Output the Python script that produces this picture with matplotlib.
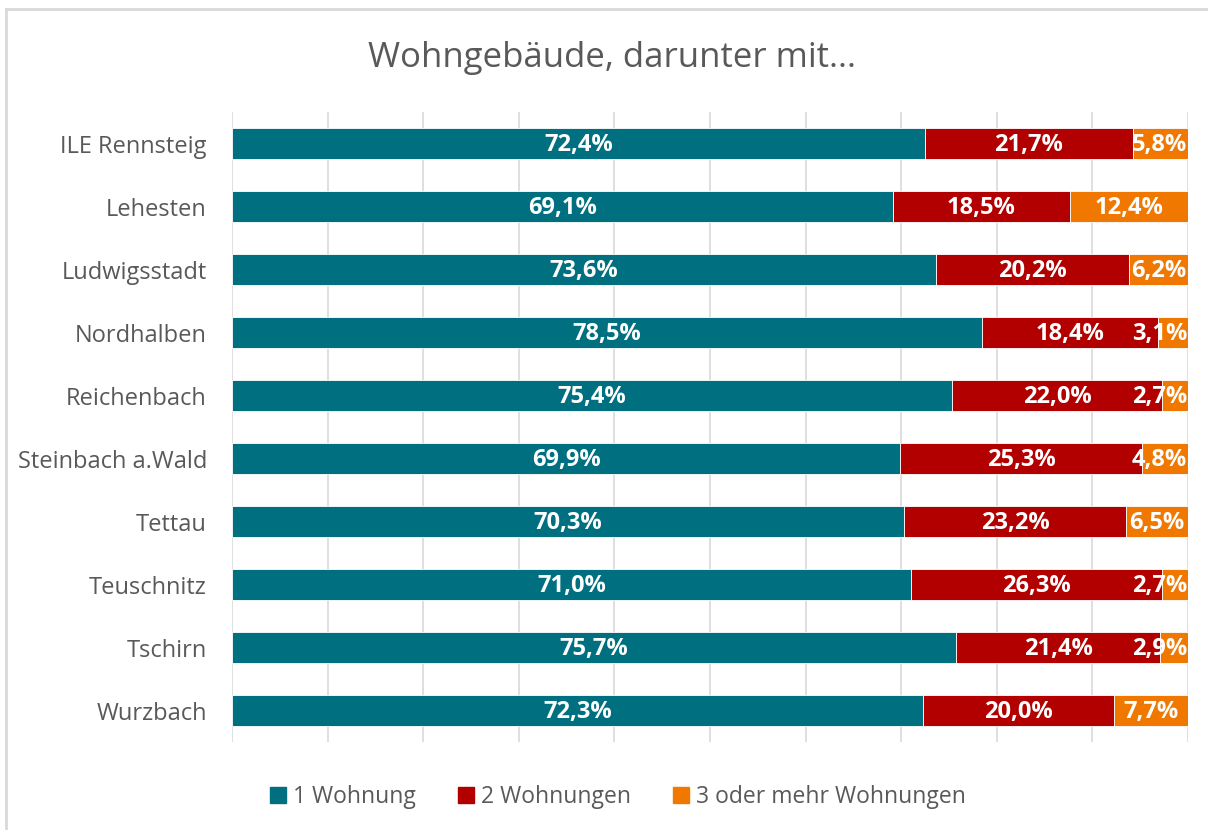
import numpy as np
import matplotlib.pyplot as plt
from matplotlib.lines import Line2D

plt.rcParams['font.family'] = ['Open Sans', 'DejaVu Sans']

regions = ["ILE Rennsteig", "Lehesten", "Ludwigsstadt", "Nordhalben", "Reichenbach",
           "Steinbach a.Wald", "Tettau", "Teuschnitz", "Tschirn", "Wurzbach"]
one_flat = [72.4, 69.1, 73.6, 78.5, 75.4, 69.9, 70.3, 71.0, 75.7, 72.3]
two_flats = [21.7, 18.5, 20.2, 18.4, 22.0, 25.3, 23.2, 26.3, 21.4, 20.0]
three_plus = [5.8, 12.4, 6.2, 3.1, 2.7, 4.8, 6.5, 2.7, 2.9, 7.7]
series_names = ["1 Wohnung", "2 Wohnungen", "3 oder mehr Wohnungen"]
colors = ["#007080", "#B20000", "#F07800"]

data = np.array([one_flat, two_flats, three_plus])
shares = data / data.sum(axis=0)

fig = plt.figure(figsize=(12.08, 8.30), dpi=100)
ax = fig.add_axes([0.192, 0.106, 0.7915, 0.759])
ax.set_xlim(0, 1)
ax.set_ylim(len(regions) - 0.5, -0.5)

y = np.arange(len(regions))
left = np.zeros(len(regions))
labels = []
for vals, share, col, name in zip(data, shares, colors, series_names):
    ax.barh(y, share, left=left, height=0.5, color=col, edgecolor='white',
            linewidth=0.6, label=name, zorder=3)
    for i, (v, s) in enumerate(zip(vals, share)):
        t = ax.text(left[i] + s / 2, y[i] + 0.03, f"{v:.1f}%".replace('.', ','),
                    ha='center', va='center', color='white', fontsize=17,
                    fontweight='bold', zorder=4)
        labels.append(t)
    left += share

# keep data labels inside the plot area (like Excel does at the right edge)
renderer = fig.canvas.get_renderer()
for t in labels:
    bb = t.get_window_extent(renderer).transformed(ax.transData.inverted())
    if bb.x1 > 0.999:
        t.set_x(t.get_position()[0] - (bb.x1 - 0.999))

ax.set_xticks(np.linspace(0, 1, 11))
ax.set_xticklabels([])
ax.grid(axis='x', color='#D9D9D9', linewidth=1.2, zorder=0)
ax.tick_params(axis='x', length=0)
ax.tick_params(axis='y', length=0, pad=18, labelsize=17, labelcolor='#595959')
ax.set_yticks(y)
ax.set_yticklabels(regions)
for sp in ax.spines.values():
    sp.set_visible(False)

fig.text(0.507, 0.930, "Wohngebäude, darunter mit...", ha='center', va='center',
         fontsize=25, color='#595959')

handles = [Line2D([], [], marker='s', linestyle='', markersize=11, color=c) for c in colors]
fig.legend(handles, series_names, loc='center', bbox_to_anchor=(0.509, 0.040), ncol=3,
           frameon=False, fontsize=16.5, labelcolor='#595959', handletextpad=0.05,
           handlelength=1.2, columnspacing=1.6)

# light frame lines at top and left
fig.add_artist(Line2D([0.005, 1.0], [0.9895, 0.9895], color='#D9D9D9', linewidth=2,
                      transform=fig.transFigure))
fig.add_artist(Line2D([0.005, 0.005], [0.0, 0.9895], color='#D9D9D9', linewidth=2,
                      transform=fig.transFigure))

fig.savefig("out.png", dpi=100)
